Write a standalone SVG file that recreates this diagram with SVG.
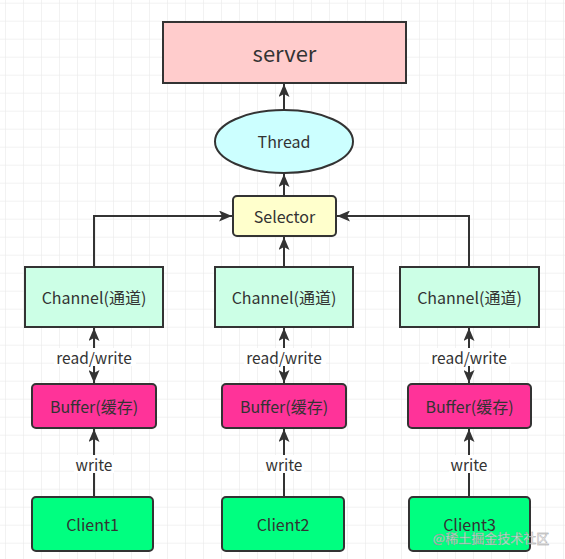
<svg xmlns="http://www.w3.org/2000/svg" width="565" height="559" viewBox="0 0 565 559">
<defs>
<pattern id="grid" x="5" y="2.7" width="18" height="18" patternUnits="userSpaceOnUse">
<path d="M0 0H18M0 0V18" fill="none" stroke="#e6e6e6" stroke-width="1"/>
</pattern>
<marker id="ah" viewBox="0 0 13 11" refX="13" refY="5.5" markerWidth="13" markerHeight="11" markerUnits="userSpaceOnUse" orient="auto-start-reverse">
<path d="M0 0L13 5.5L0 11L3 5.5Z" fill="#333"/>
</marker>
<style>
text{font-family:"Noto Sans CJK SC","Noto Sans",sans-serif;text-anchor:middle;dominant-baseline:central;fill:#333;font-size:16px}
.n{stroke:#333;stroke-width:2}
.c{fill:none;stroke:#333;stroke-width:2}
.lbl{font-size:15.5px;fill:#333}
</style>
</defs>
<rect width="565" height="559" fill="#fff"/>
<rect width="565" height="559" fill="url(#grid)"/>
<g id="connectors">
<line class="c" x1="284" y1="110" x2="284" y2="84" marker-end="url(#ah)"/>
<line class="c" x1="284" y1="196" x2="284" y2="174" marker-end="url(#ah)"/>
<line class="c" x1="284" y1="267" x2="284" y2="237" marker-end="url(#ah)"/>
<polyline class="c" points="94,267 94,216 232,216" marker-end="url(#ah)"/>
<polyline class="c" points="469,267 469,216 337,216" marker-end="url(#ah)"/>
<line class="c" x1="94" y1="328" x2="94" y2="383" marker-start="url(#ah)" marker-end="url(#ah)"/>
<line class="c" x1="284" y1="328" x2="284" y2="383" marker-start="url(#ah)" marker-end="url(#ah)"/>
<line class="c" x1="469" y1="328" x2="469" y2="383" marker-start="url(#ah)" marker-end="url(#ah)"/>
<line class="c" x1="94" y1="497" x2="94" y2="429" marker-end="url(#ah)"/>
<line class="c" x1="284" y1="497" x2="284" y2="429" marker-end="url(#ah)"/>
<line class="c" x1="469" y1="497" x2="469" y2="429" marker-end="url(#ah)"/>
<rect x="54" y="348" width="82" height="18" fill="#fff"/>
<rect x="244" y="348" width="82" height="18" fill="#fff"/>
<rect x="429" y="348" width="82" height="18" fill="#fff"/>
<rect x="74" y="455" width="40" height="18" fill="#fff"/>
<rect x="264" y="455" width="40" height="18" fill="#fff"/>
<rect x="449" y="455" width="40" height="18" fill="#fff"/>
<text class="lbl" x="94" y="357">read/write</text>
<text class="lbl" x="284" y="357">read/write</text>
<text class="lbl" x="469" y="357">read/write</text>
<text class="lbl" x="94" y="464">write</text>
<text class="lbl" x="284" y="464">write</text>
<text class="lbl" x="469" y="464">write</text>
</g>
<g id="server"><rect class="n" x="163" y="22" width="243" height="61" fill="#ffcccc"/><text x="284.5" y="52" style="font-size:22px">server</text></g>
<g id="thread"><ellipse class="n" cx="284" cy="141.5" rx="69" ry="31.5" fill="#ccffff"/><text x="284" y="141">Thread</text></g>
<g id="selector"><rect class="n" x="233" y="196" width="103" height="40" rx="4" fill="#ffffcc"/><text x="284.5" y="216">Selector</text></g>
<g id="channel1"><rect class="n" x="25" y="267" width="138" height="60" fill="#ccffe6"/><text x="94" y="297">Channel(通道)</text></g>
<g id="channel2"><rect class="n" x="215" y="267" width="138" height="60" fill="#ccffe6"/><text x="284" y="297">Channel(通道)</text></g>
<g id="channel3"><rect class="n" x="400" y="267" width="139" height="60" fill="#ccffe6"/><text x="469.5" y="297">Channel(通道)</text></g>
<g id="buffer1"><rect class="n" x="32" y="384" width="124" height="44" rx="4" fill="#ff3399"/><text x="94" y="406">Buffer(缓存)</text></g>
<g id="buffer2"><rect class="n" x="222" y="384" width="124" height="44" rx="4" fill="#ff3399"/><text x="284" y="406">Buffer(缓存)</text></g>
<g id="buffer3"><rect class="n" x="408" y="384" width="123" height="44" rx="4" fill="#ff3399"/><text x="469.5" y="406">Buffer(缓存)</text></g>
<g id="client1"><rect class="n" x="32" y="497" width="121" height="54" rx="4" fill="#00ff80"/><text x="92.5" y="524">Client1</text></g>
<g id="client2"><rect class="n" x="222" y="497" width="122" height="54" rx="4" fill="#00ff80"/><text x="283" y="524">Client2</text></g>
<g id="client3"><rect class="n" x="409" y="497" width="121" height="54" rx="4" fill="#00ff80"/><text x="469.5" y="524">Client3</text></g>
<text x="491" y="537" style="font-size:13px;fill:#ffffff;fill-opacity:0.7;stroke:#999;stroke-width:0.4">@稀土掘金技术社区</text>
</svg>
